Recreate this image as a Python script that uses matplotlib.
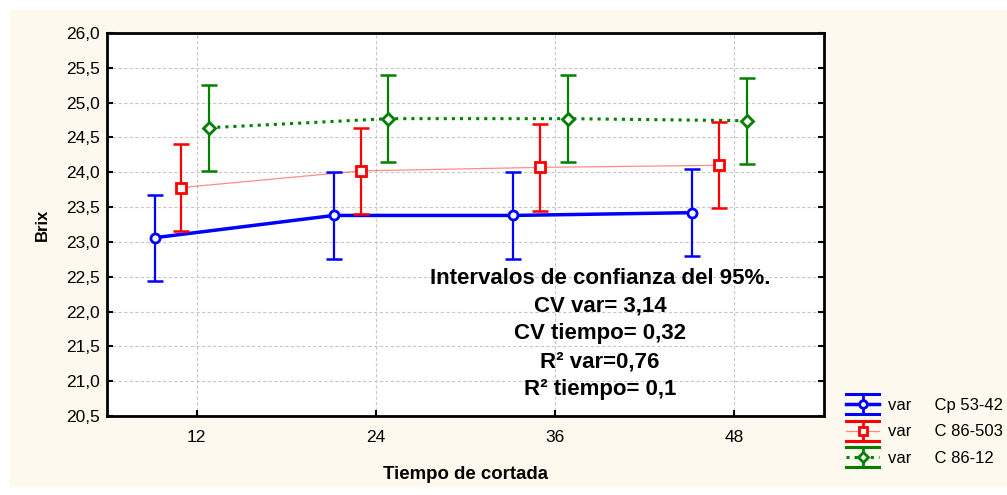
import matplotlib.pyplot as plt
import numpy as np
from matplotlib.legend_handler import HandlerBase
from matplotlib.lines import Line2D
from matplotlib.patches import Rectangle

plt.rcParams["font.family"] = ["Liberation Sans", "DejaVu Sans"]

tiempos = ["12", "24", "36", "48"]
variedades = ["Cp 53-42", "C 86-503", "C 86-12"]

# medias de Brix y semiamplitud del intervalo de confianza 95 %
brix_cp5342 = [23.06, 23.38, 23.38, 23.42]
brix_c86503 = [23.78, 24.02, 24.07, 24.10]
brix_c8612 = [24.64, 24.77, 24.77, 24.74]
ic_cp5342 = [0.62, 0.62, 0.62, 0.62]
ic_c86503 = [0.62, 0.62, 0.62, 0.62]
ic_c8612 = [0.62, 0.62, 0.62, 0.62]

anotaciones = [
    "Intervalos de confianza del 95%.",
    "CV var= 3,14",
    "CV tiempo= 0,32",
    "R² var=0,76",
    "R² tiempo= 0,1",
]


class ProxyIC:
    def __init__(self, color, ls, lw, alpha, marker):
        self.color, self.ls, self.lw, self.alpha, self.marker = color, ls, lw, alpha, marker


class HandlerIC(HandlerBase):
    # símbolo tipo Statistica: línea, marcador y barra de error con topes anchos
    def create_artists(self, legend, h, xd, yd, width, height, fontsize, trans):
        x0, x1 = -xd, -xd + width
        cx, cy = (x0 + x1) / 2, -yd + height / 2
        d = 7.2
        arts = [
            Line2D([x0, x1], [cy, cy], color=h.color, ls=h.ls, lw=h.lw, alpha=h.alpha),
            Line2D([x0, x1], [cy + d, cy + d], color=h.color, lw=2.2),
            Line2D([x0, x1], [cy - d, cy - d], color=h.color, lw=2.2),
            Line2D([cx, cx], [cy - d, cy + d], color=h.color, lw=2),
            Line2D([cx], [cy], ls="none", marker=h.marker, ms=5.5, mfc="white",
                   mec=h.color, mew=2),
        ]
        for a in arts:
            a.set_transform(trans)
        return arts


fig = plt.figure(figsize=(10.07, 4.95), dpi=100)
fig.patch.set_facecolor("white")
fig.patches.append(Rectangle((10 / 1007, 8 / 495), 1, 1 - 18 / 495,
                             transform=fig.transFigure, facecolor="#fdf9ee",
                             edgecolor="none", zorder=-10))

ax = fig.add_axes([107 / 1007, 1 - 416 / 495, 717 / 1007, 383 / 495])
ax.set_facecolor("white")

x = np.arange(1, len(tiempos) + 1)
estilos = [
    (brix_cp5342, ic_cp5342, -0.235, "#0000ff", "-", 2.5, "o", 1.0),
    (brix_c86503, ic_c86503, -0.085, "#ff0000", "-", 0.9, "s", 0.45),
    (brix_c8612, ic_c8612, 0.07, "#008000", ":", 2.2, "D", 1.0),
]
proxies = []
for vals, ic, off, color, ls, lw, mk, alpha in estilos:
    xs = x + off
    ax.plot(xs, vals, color=color, ls=ls, lw=lw, alpha=alpha, zorder=3)
    ax.errorbar(xs, vals, yerr=ic, fmt="none", ecolor=color, elinewidth=1.6,
                capsize=6, capthick=1.8, zorder=4)
    ax.plot(xs, vals, ls="none", marker=mk, ms=6.5 if mk != "D" else 6,
            mfc="white", mec=color, mew=2, zorder=5)
    proxies.append(ProxyIC(color, ls, lw, alpha, mk))

ax.set_xlim(0.5, 4.5)
ax.set_ylim(20.5, 26.0)
ax.set_xticks(x)
ax.set_xticklabels(tiempos)
yt = np.arange(20.5, 26.01, 0.5)
ax.set_yticks(yt)
ax.set_yticklabels([f"{v:.1f}".replace(".", ",") for v in yt])
ax.tick_params(direction="in", length=4, width=1.5, labelsize=12.5, pad=5,
               right=True, colors="black")
ax.tick_params(axis="x", pad=10)
ax.grid(True, color="#c8c8c8", ls=(0, (3, 2)), lw=0.8)
ax.set_axisbelow(True)
for s in ax.spines.values():
    s.set_color("black")
    s.set_linewidth(2)

ax.set_ylabel("Brix", fontsize=12, fontweight="bold", labelpad=12)
ax.set_xlabel("Tiempo de cortada", fontsize=13.4, fontweight="bold", labelpad=15)

ys = [278, 306, 334, 362, 390]
for texto, yp in zip(anotaciones, ys):
    ax.text((600 - 107) / 717, (416 - yp) / 383, texto, transform=ax.transAxes,
            ha="center", va="center", fontsize=16, fontweight="bold")

etiquetas = [f"var     {v}" for v in variedades]
fig.legend(proxies, etiquetas, handler_map={ProxyIC: HandlerIC()},
           loc="upper left", bbox_to_anchor=(846 / 1007, 1 - 398 / 495),
           frameon=False, fontsize=12, handlelength=2.0, handleheight=0.7,
           labelspacing=0.68, handletextpad=0.55, borderaxespad=0, borderpad=0)

fig.savefig("out.png", dpi=100, facecolor=fig.get_facecolor())
